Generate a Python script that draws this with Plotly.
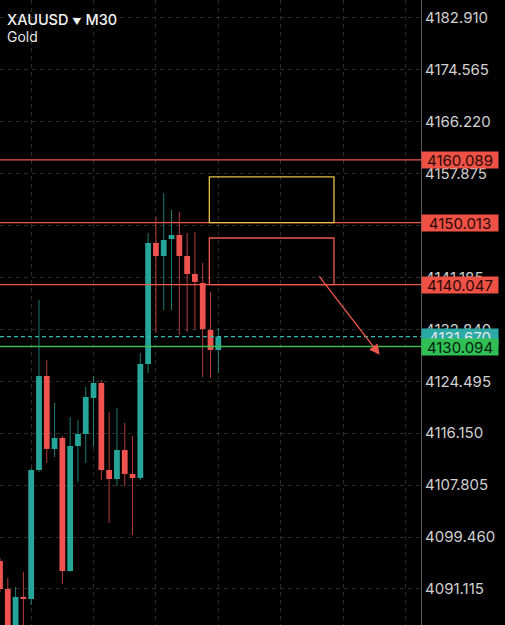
import plotly.graph_objects as go

# ---- data ----
idx = list(range(29))
opens = [4095.61, 4091.11, 4083.71, 4089.82, 4089.50, 4110.24, 4125.35, 4113.62, 4115.39, 4094.00,
         4114.10, 4116.03, 4121.82, 4124.23, 4110.24, 4108.79, 4113.46, 4109.60, 4108.96, 4127.28,
         4146.74, 4144.65, 4147.38, 4148.02, 4144.65, 4141.75, 4140.31, 4132.75, 4129.53]
highs = [4096.09, 4092.88, 4091.43, 4093.84, 4110.56, 4137.57, 4127.93, 4121.01, 4115.71, 4118.76,
         4118.28, 4123.59, 4125.35, 4124.71, 4119.57, 4120.21, 4117.80, 4115.71, 4129.05, 4148.34,
         4150.92, 4154.77, 4152.04, 4151.72, 4148.34, 4148.50, 4143.52, 4138.86, 4133.07]
lows = [4090.63, 4081.30, 4082.11, 4082.91, 4088.54, 4109.92, 4111.37, 4112.33, 4091.91, 4093.84,
        4108.31, 4111.37, 4113.94, 4108.63, 4101.72, 4107.67, 4107.67, 4099.79, 4108.63, 4125.84,
        4132.27, 4135.96, 4135.96, 4131.95, 4132.43, 4132.75, 4125.19, 4125.03, 4125.84]
closes = [4091.11, 4082.91, 4089.82, 4089.50, 4110.24, 4125.35, 4113.62, 4115.39, 4094.00, 4114.10,
          4116.03, 4121.98, 4124.23, 4110.24, 4108.79, 4113.46, 4109.60, 4108.96, 4127.28, 4146.74,
          4144.65, 4147.22, 4148.02, 4144.65, 4141.75, 4140.47, 4132.91, 4129.53, 4131.67]

tick_vals = [4091.115, 4099.460, 4107.805, 4116.150, 4124.495, 4132.840,
             4141.185, 4149.530, 4157.875, 4166.220, 4174.565, 4182.910]
tick_text = ["4091.115", "4099.460", "4107.805", "4116.150", "4124.495", "4132.840",
             "4141.185", "4149.530", "4157.875", "4166.220", "4174.565", "4182.910"]
vgrid = [4, 12, 20, 28, 36, 44, 52]

red_levels = [4160.089, 4150.013, 4140.047]
last_price = 4131.670
green_level = 4130.094

yellow_zone = dict(x0=26.85, x1=42.84, y0=4150.013, y1=4157.35)
red_zone = dict(x0=26.85, x1=42.84, y0=4140.047, y1=4147.54)
arrow_from = (40.8, 4141.6)
arrow_to = (48.7, 4128.75)

# ---- styles ----
UP = "#26a69a"
DN = "#ef5350"
LINE_RED = "#f0584c"
GREEN = "#3fb950"
TEAL_LBL = "#2aa9a6"
FONT = "Inter, Roboto, Arial, sans-serif"

fig = go.Figure()

up = [i for i in idx if closes[i] >= opens[i]]
dn = [i for i in idx if closes[i] < opens[i]]

def wick_xy(ids):
    xs, ys = [], []
    for i in ids:
        xs += [i, i, None]
        ys += [lows[i], highs[i], None]
    return xs, ys

for ids, col in ((up, UP), (dn, DN)):
    wx, wy = wick_xy(ids)
    fig.add_trace(go.Scatter(x=wx, y=wy, mode="lines", line=dict(color=col, width=1),
                             opacity=0.75, hoverinfo="skip", showlegend=False))
    fig.add_trace(go.Bar(x=ids, base=[opens[i] for i in ids],
                         y=[closes[i] - opens[i] for i in ids],
                         width=0.74, marker=dict(color=col, line=dict(width=0)),
                         hoverinfo="skip", showlegend=False))

shapes = []
for lv in red_levels:
    shapes.append(dict(type="line", xref="paper", x0=0, x1=1, yref="y", y0=lv, y1=lv,
                       line=dict(color=LINE_RED, width=1.3)))
shapes.append(dict(type="line", xref="paper", x0=0, x1=1, yref="y", y0=last_price, y1=last_price,
                   line=dict(color="#35b8b0", width=1.3, dash="4px,3px")))
shapes.append(dict(type="line", xref="paper", x0=0, x1=1, yref="y", y0=green_level, y1=green_level,
                   line=dict(color=GREEN, width=1.5)))
shapes.append(dict(type="rect", xref="x", yref="y", **yellow_zone,
                   line=dict(color="#e6c24a", width=1.3), fillcolor="rgba(0,0,0,0)"))
shapes.append(dict(type="rect", xref="x", yref="y", **red_zone,
                   line=dict(color=LINE_RED, width=1.3), fillcolor="rgba(0,0,0,0)"))

annotations = []
annotations.append(dict(x=arrow_to[0], y=arrow_to[1], ax=arrow_from[0], ay=arrow_from[1],
                        xref="x", yref="y", axref="x", ayref="y", text="", showarrow=True,
                        arrowhead=2, arrowsize=1.6, arrowwidth=1.3, arrowcolor=LINE_RED))

def price_label(val, bg, fg):
    return dict(xref="paper", x=1, xanchor="left", yref="y", y=val, yanchor="middle",
                text=f"{val:.3f}", showarrow=False, bgcolor=bg, width=76, height=16,
                borderpad=0, align="center",
                font=dict(family=FONT, size=15, color=fg))

for lv in red_levels:
    annotations.append(price_label(lv, "#ef5145", "#2a0906"))
annotations.append(price_label(last_price, TEAL_LBL, "#e8e8e8"))
annotations.append(price_label(green_level, "#2fbf55", "#06210e"))

annotations.append(dict(xref="paper", yref="paper", x=0, y=1, xanchor="left", yanchor="top",
                        xshift=5, yshift=-9, showarrow=False, align="left",
                        text="XAUUSD <span style='font-size:9px'>▼</span> M30",
                        font=dict(family=FONT, size=14.5, color="#f2f2f2", weight=500)))
annotations.append(dict(xref="paper", yref="paper", x=0, y=1, xanchor="left", yanchor="top",
                        xshift=5, yshift=-26, showarrow=False, align="left",
                        text="Gold", font=dict(family=FONT, size=14, color="#e6e6e6")))

fig.update_layout(
    width=505, height=625,
    margin=dict(l=0, r=84, t=0, b=0),
    paper_bgcolor="#000000", plot_bgcolor="#000000",
    barmode="overlay", showlegend=False,
    shapes=shapes, annotations=annotations,
    hovermode=False,
    xaxis=dict(range=[0, 54], tickvals=vgrid, showticklabels=False, ticks="",
               showgrid=True, gridcolor="#2c2c2c", griddash="4px,4px", gridwidth=1,
               zeroline=False, showline=False, fixedrange=True),
    yaxis=dict(range=[4085.32, 4185.80], side="right", tickvals=tick_vals, ticktext=tick_text,
               showgrid=True, gridcolor="#2c2c2c", griddash="4px,4px", gridwidth=1,
               showline=True, linecolor="#5a5a5a", linewidth=1, mirror=False,
               ticks="", ticklabelstandoff=0, zeroline=False,
               tickfont=dict(family=FONT, size=15, color="#d0d0d0"), fixedrange=True),
)

fig.write_html("out.html", config={"displayModeBar": False},
               post_script="document.body.style.margin='0';document.body.style.padding='0';")
